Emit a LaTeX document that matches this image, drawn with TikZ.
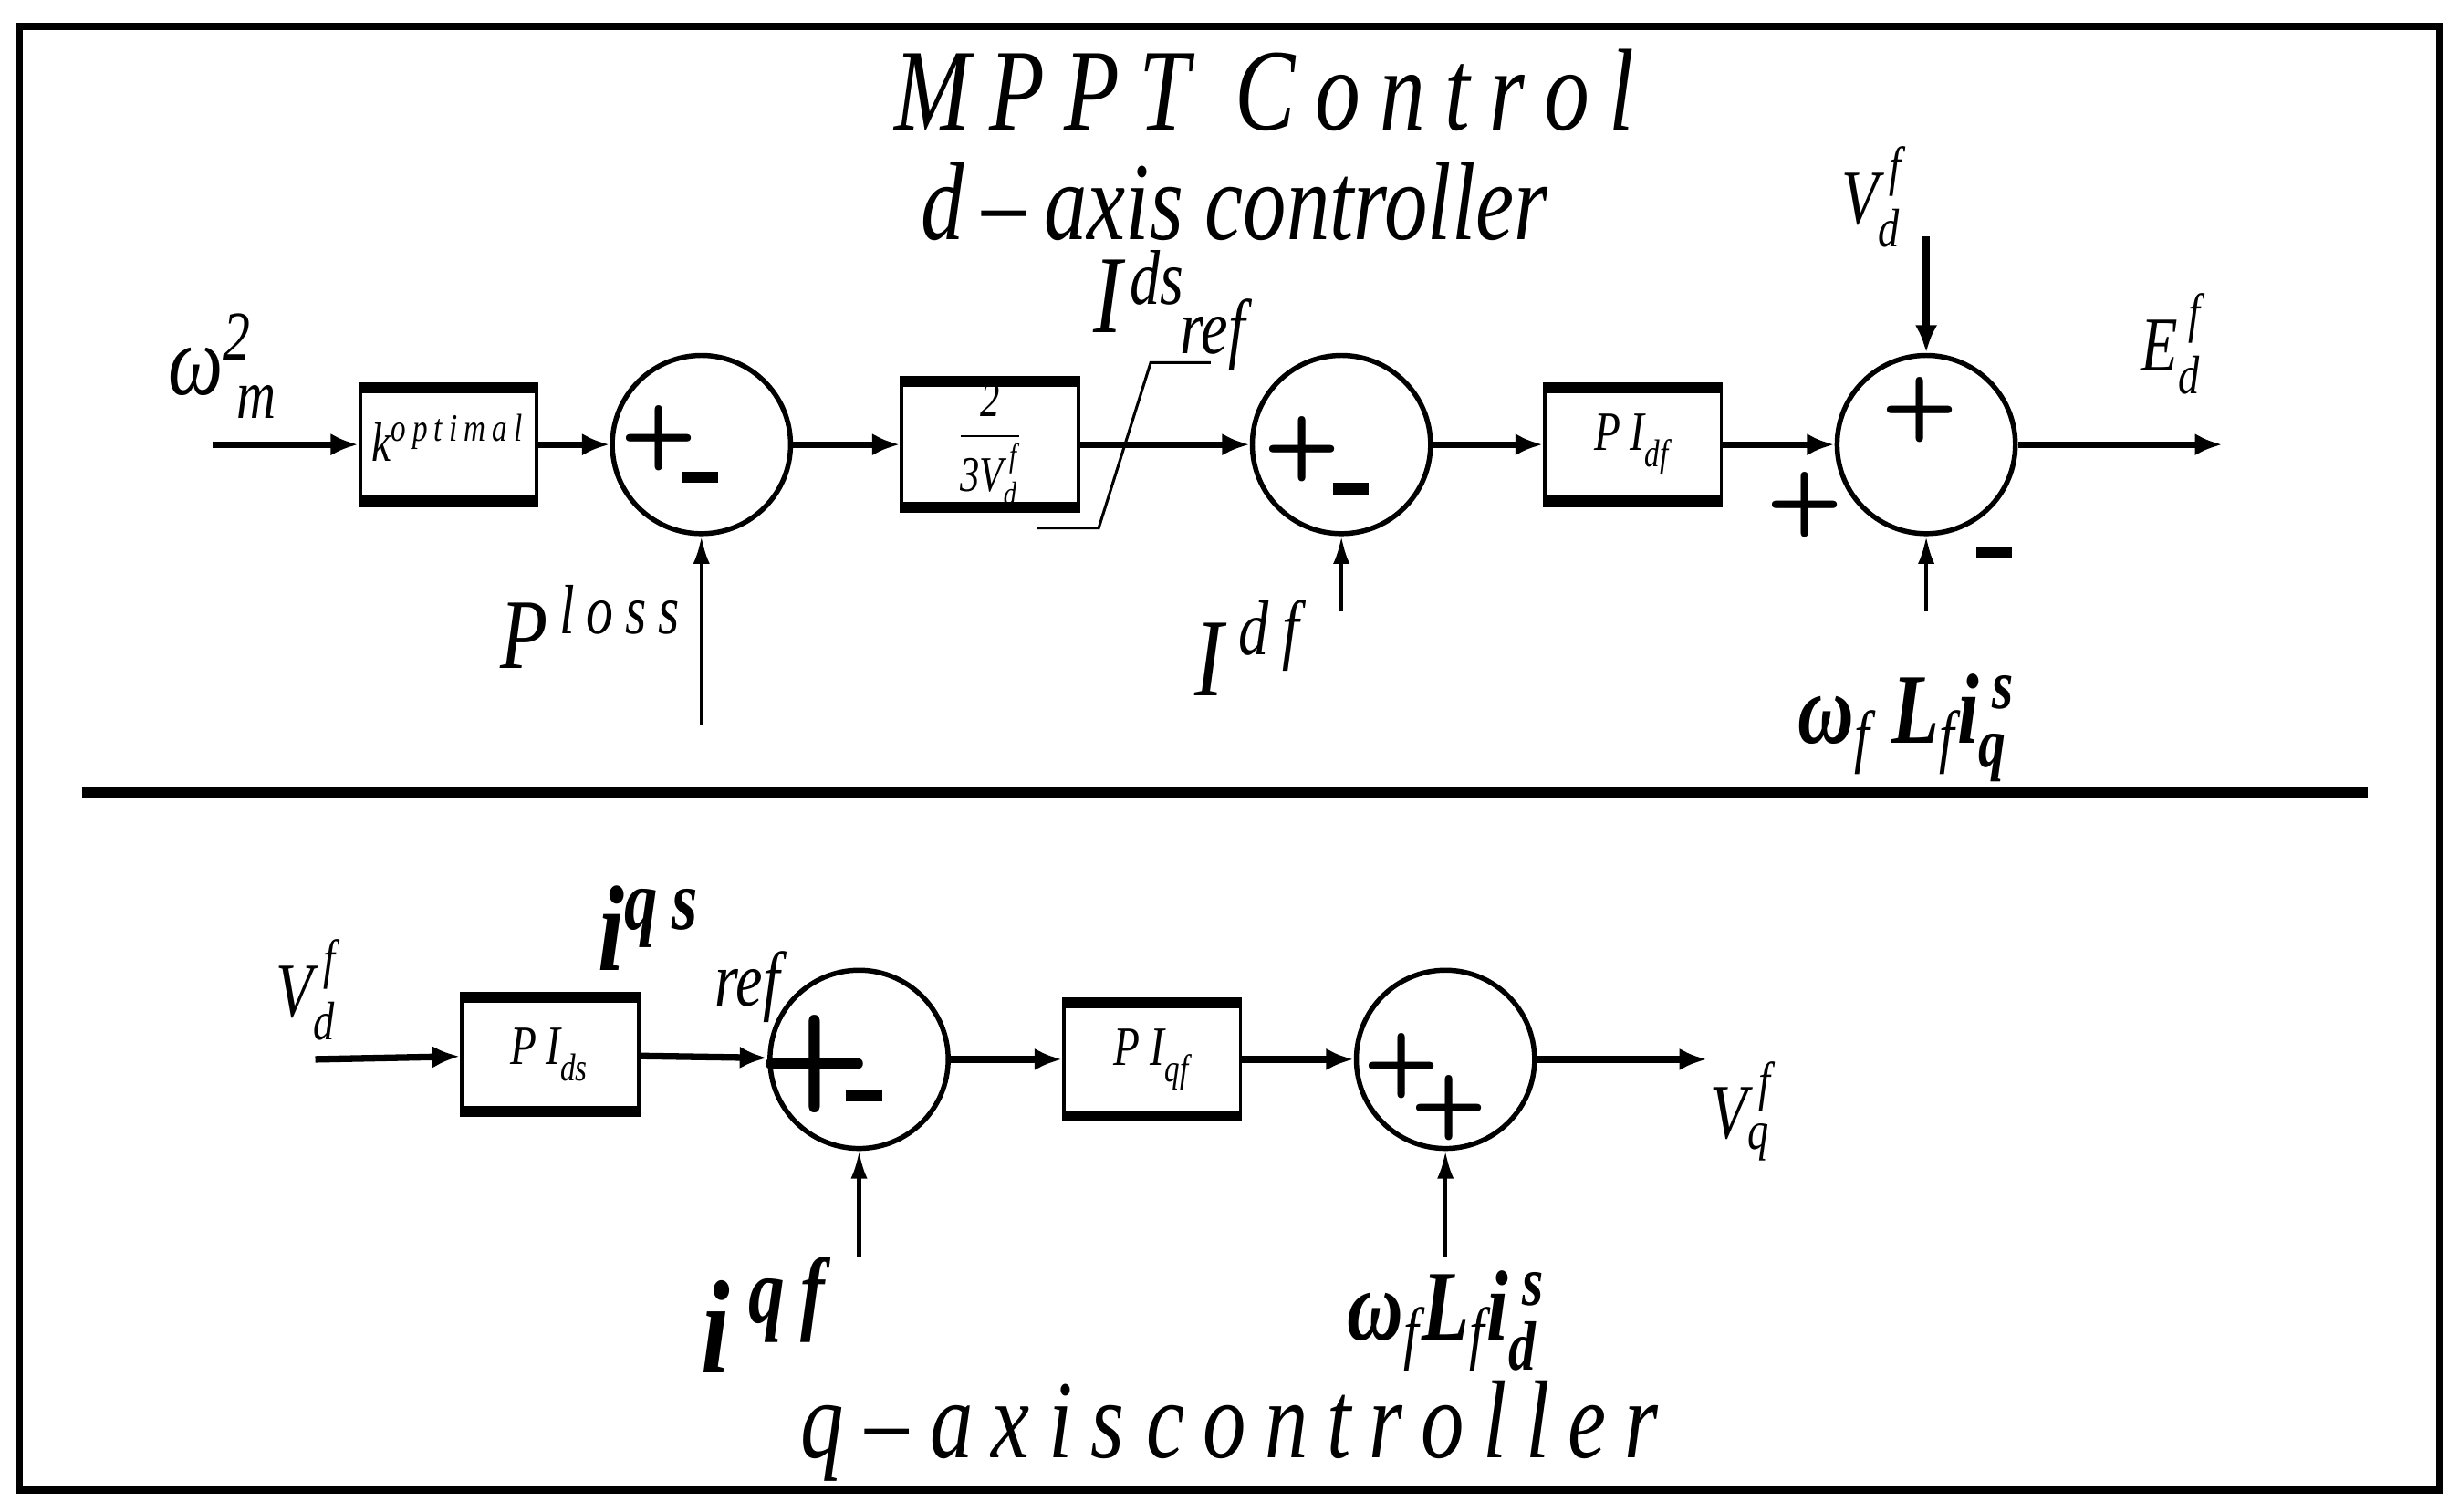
\documentclass[tikz,border=0pt]{standalone}
\usepackage{amsmath}
\usepackage{fontspec}
\setmainfont{Liberation Serif}[FakeStretch=0.78]
\usetikzlibrary{arrows.meta}
\newcommand\lbl[3]{#1\ensuremath{{}^{\text{#3}}_{\text{#2}}}}
\begin{document}
\begin{tikzpicture}[x=0.01cm,y=-0.01cm,
  sig/.style={line width=1.2pt,-{Latex[length=5pt,width=4pt]}},
  thin/.style={line width=0.7pt,-{Latex[length=5pt,width=3pt]}},
  blk/.style={draw,line width=0.6pt,minimum width=1.12cm,minimum height=0.70cm,inner sep=0pt,font=\itshape\normalsize},
  sum/.style={draw,circle,line width=0.9pt,minimum size=1.13cm,inner sep=0pt},
  lab/.style={font=\itshape\fontsize{14}{16}\selectfont,inner sep=0pt},
  pm/.style={font=\sffamily\bfseries\fontsize{16}{16}\selectfont,inner sep=0pt}]
\useasboundingbox (0,0) rectangle (1560,958.6);
\draw[line width=1.3pt] (12,17) rectangle (1548,945);
\draw[line width=1.8pt] (52,503) -- (1502,503);
\node[font=\itshape\fontsize{21}{24}\selectfont] (title) at (802,57) {M\,P\,P\,T\ \ C\,o\,n\,t\,r\,o\,l};
\node[font=\itshape\fontsize{20}{22}\selectfont] (dax) at (783,128) {d\,--\,axis controller};
% d-axis
\coordinate (in1) at (135,282);
\node[blk] (k) at (284.5,282) {\lbl{k}{}{\scriptsize o\,p\,t\,i\,m\,a\,l}};
\node[sum] (s1) at (445,282) {};
\node[blk,font=\itshape\small] (g) at (628,282) {\ensuremath{\dfrac{\text{2}}{\text{3\lbl{V}{d}{\,f}}}}};
\node[sum] (s2) at (851,282) {};
\node[blk] (pid) at (1036,282) {\lbl{P\,I}{df}{}};
\node[sum] (s3) at (1222,282) {};
\coordinate (out1) at (1410,282);
\foreach \b in {k,g,pid}{\draw[line width=2pt] (\b.north west)--(\b.north east) (\b.south west)--(\b.south east);}
\draw[sig] (in1) -- (k);
\draw[sig] (k) -- (s1);
\draw[sig] (s1) -- (g);
\draw[sig] (g) -- (s2);
\draw[sig] (s2) -- (pid);
\draw[sig] (pid) -- (s3);
\draw[sig] (s3) -- (out1);
\coordinate (vtop) at (1222,150);
\draw[sig] (vtop) -- (s3);
\coordinate (pl) at (445,460); \draw[thin] (pl) -- (s1);
\coordinate (idf) at (851,388); \draw[thin] (idf) -- (s2);
\coordinate (wq) at (1222,388); \draw[thin] (wq) -- (s3);
\draw[line width=0.5pt] (658,335) -- (697,335) -- (730,230) -- (768,230);
\node[lab] (lw) at (142,232) {\lbl{\fontsize{18}{18}\selectfont ω}{\ m}{2}};
\node[lab] (lp) at (375,405) {\lbl{\fontsize{18}{18}\selectfont P}{}{\,l\,o\,s\,s}};
\node[lab] (li) at (792,420) {\lbl{\fontsize{20}{20}\selectfont I}{}{\ d\,f}};
\node[lab,anchor=west] (lids) at (693,188) {\fontsize{20}{20}\selectfont I};
\node[lab,anchor=west] (lds) at (716,176) {ds};
\node[lab,anchor=west] (lref) at (748,212) {ref};
\node[lab] (lv) at (1188,125) {\lbl{V}{d}{\ f}};
\node[lab] (le) at (1378,218) {\lbl{E}{d}{\ f}};
\node[lab] (lwl) at (1210,462) {\fontsize{18}{18}\selectfont\bfseries ω\ensuremath{_{\text{\normalfont\itshape f}}} L\ensuremath{_{\text{\normalfont\itshape f}}}\lbl{i}{q}{\ s}};
\node[pm] at (418,278) {+}; \node[pm] at (444,303) {\rule{0.23cm}{0.07cm}};
\node[pm] at (826,285) {+}; \node[pm] at (857,310) {\rule{0.23cm}{0.07cm}};
\node[pm] at (1218,260) {+};
\node[pm] at (1145,320) {+}; \node[pm] at (1265,350) {\rule{0.23cm}{0.07cm}};
% q-axis
\coordinate (in2) at (200,672);
\node[blk] (pids) at (349,669) {\lbl{P\,I}{ds}{}};
\node[sum] (s4) at (545,672) {};
\node[blk] (piq) at (731,672) {\lbl{P\ I}{qf}{}};
\node[sum] (s5) at (917,672) {};
\coordinate (out2) at (1083,672);
\foreach \b in {pids,piq}{\draw[line width=2pt] (\b.north west)--(\b.north east) (\b.south west)--(\b.south east);}
\draw[sig] (in2) -- (pids);
\draw[sig] (pids) -- (s4);
\draw[sig] (s4) -- (piq);
\draw[sig] (piq) -- (s5);
\draw[sig] (s5) -- (out2);
\coordinate (iqf) at (545,797); \draw[thin] (iqf) -- (s4);
\coordinate (wd) at (917,797); \draw[thin] (wd) -- (s5);
\node[lab] (lvd2) at (195,628) {\lbl{V}{d}{\ f}};
\node[lab] (liqs) at (412,598) {\lbl{\fontsize{22}{22}\selectfont\bfseries i}{}{q\,s}};
\node[lab] (lref2) at (474,626) {ref};
\node[lab] (lvq) at (1105,705) {\lbl{V}{q}{\ f}};
\node[lab] (liqf) at (485,845) {\lbl{\fontsize{24}{24}\selectfont\bfseries i}{}{\ q\,f}};
\node[lab] (lwd) at (918,838) {\fontsize{18}{18}\selectfont\bfseries ω\ensuremath{_{\text{\normalfont\itshape f}}}L\ensuremath{_{\text{\normalfont\itshape f}}}\lbl{i}{d}{\ s}};
\node[pm,font=\sffamily\bfseries\fontsize{24}{24}\selectfont] at (517,675) {+}; \node[pm] at (548,695) {\rule{0.23cm}{0.07cm}};
\node[pm] at (889,676) {+}; \node[pm] at (919,703) {+};
\node[font=\itshape\fontsize{20}{22}\selectfont] (qax) at (780,908) {q\ --\ a\,x\,i\,s\ c\,o\,n\,t\,r\,o\,l\,l\,e\,r};
\end{tikzpicture}
\end{document}
